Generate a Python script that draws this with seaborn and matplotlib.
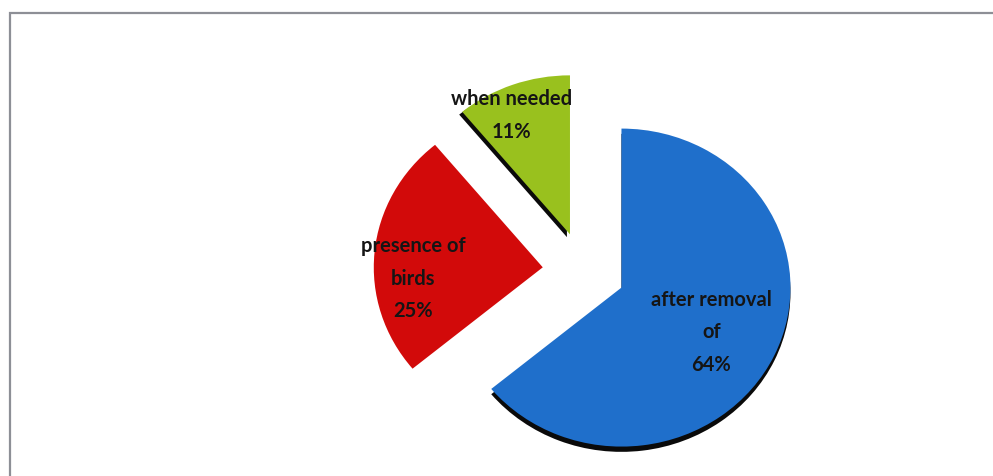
import numpy as np
import matplotlib
matplotlib.use("Agg")
import matplotlib.pyplot as plt
import matplotlib.patheffects as pe
from matplotlib.patches import Rectangle
import seaborn as sns

# Data
categories = ["after removal\nof", "presence of\nbirds", "when needed"]
shares = [64, 25, 11]
colors = ["#1F6FCB", "#D20A0A", "#99C11E"]

sns.set_theme(style="white")
plt.rcParams["font.family"] = ["Lato", "DejaVu Sans"]

fig = plt.figure(figsize=(9.93, 4.77), dpi=100)
fig.patch.set_facecolor("white")
ax = fig.add_axes([0, 0, 1, 1])

wedges, _ = ax.pie(
    shares,
    colors=colors,
    startangle=90,
    counterclock=False,
    explode=[0.245] * len(shares),
    radius=1.0,
    wedgeprops=dict(linewidth=0),
)

# dark rim on the lower edge of the blue and green slices
rims = {0: (0.0, -3.8), 2: (-2.2, -2.0)}
for i, off in rims.items():
    wedges[i].set_path_effects([
        pe.SimplePatchShadow(offset=off, shadow_rgbFace="#0a0a0a", alpha=1.0),
        pe.Normal(),
    ])

# labels inside each slice: category name and share
label_dist = [0.60, 0.77, 0.83]
label_turn = [-2.2, 10.3, 5.0]
for w, cat, val, d, t in zip(wedges, categories, shares, label_dist, label_turn):
    mid = np.deg2rad((w.theta1 + w.theta2) / 2 + t)
    cx, cy = w.center
    ax.text(cx + d * np.cos(mid), cy + d * np.sin(mid), f"{cat}\n{val}%",
            ha="center", va="center", fontsize=14.5, fontweight="bold",
            color="#151515", linespacing=1.78)

# pie slightly flattened vertically: 169 px per unit across, 159 px per unit down
ax.set_aspect("auto")
ax.set_xlim(-584 / 169, (993 - 584) / 169)
ax.set_ylim(-(477 - 272) / 159, 272 / 159)
ax.axis("off")

# chart frame
fig.add_artist(Rectangle((9.5 / 993, -0.2), 1.5, (477 - 13.5) / 477 + 0.2,
                         transform=fig.transFigure, fill=False,
                         edgecolor="#8d8f96", linewidth=1.6))

fig.savefig("out.png", dpi=100)
